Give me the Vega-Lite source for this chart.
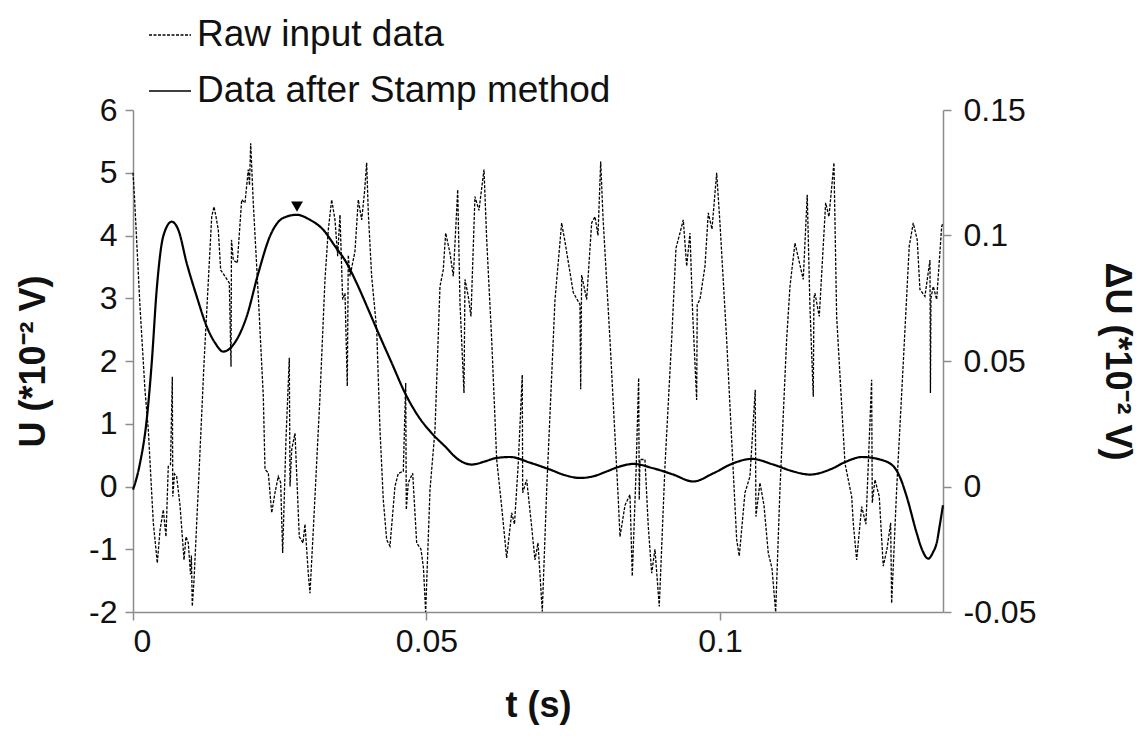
{
  "$schema": "https://vega.github.io/schema/vega-lite/v6.json",
  "width": 810,
  "height": 502,
  "autosize": {"type": "none"},
  "padding": {"left": 133, "top": 110, "right": 201, "bottom": 124},
  "background": "white",
  "config": {
    "view": {"stroke": null},
    "axis": {
      "grid": false,
      "domainColor": "#8c8c8c",
      "tickColor": "#8c8c8c",
      "domainWidth": 1.5,
      "tickWidth": 1.5,
      "tickSize": 8,
      "labelFont": "Liberation Sans",
      "titleFont": "Liberation Sans",
      "labelFontSize": 32,
      "titleFontSize": 36,
      "labelColor": "#111",
      "titleColor": "#111",
      "titleFontWeight": "bold"
    },
    "legend": {
      "orient": "none",
      "legendX": 15,
      "legendY": -97,
      "symbolType": "stroke",
      "symbolSize": 1764,
      "symbolStrokeWidth": 1.5,
      "symbolStrokeColor": "black",
      "labelFont": "Liberation Sans",
      "labelFontSize": 37,
      "labelLimit": 0,
      "labelColor": "#111",
      "labelOffset": 5,
      "rowPadding": 16,
      "padding": 0
    }
  },
  "datasets": {
    "raw": [
      {"t": 0.0, "U": 5.0}, {"t": 0.00026, "U": 4.6}, {"t": 0.00119, "U": 2.87}, {"t": 0.00204, "U": 1.54},
      {"t": 0.00261, "U": 0.9}, {"t": 0.00346, "U": -0.58}, {"t": 0.00375, "U": -0.85}, {"t": 0.00414, "U": -1.22},
      {"t": 0.0046, "U": -0.7}, {"t": 0.00516, "U": -0.37}, {"t": 0.00562, "U": -0.8}, {"t": 0.00601, "U": 0.32},
      {"t": 0.00639, "U": 0.35}, {"t": 0.0067, "U": 1.75}, {"t": 0.00678, "U": -0.16}, {"t": 0.00707, "U": 0.2},
      {"t": 0.00744, "U": 0.16}, {"t": 0.00801, "U": -0.3}, {"t": 0.00869, "U": -1.17}, {"t": 0.00903, "U": -0.8},
      {"t": 0.00942, "U": -0.9}, {"t": 0.0098, "U": -1.4}, {"t": 0.00995, "U": -1.1}, {"t": 0.0101, "U": -1.91},
      {"t": 0.01039, "U": -1.5}, {"t": 0.01112, "U": -0.05}, {"t": 0.0121, "U": 1.97}, {"t": 0.013, "U": 3.57},
      {"t": 0.01341, "U": 4.3}, {"t": 0.0138, "U": 4.46}, {"t": 0.01414, "U": 4.3}, {"t": 0.01453, "U": 4.09},
      {"t": 0.01494, "U": 3.45}, {"t": 0.01567, "U": 3.35}, {"t": 0.01641, "U": 3.24}, {"t": 0.0167, "U": 1.91},
      {"t": 0.01678, "U": 3.93}, {"t": 0.01709, "U": 3.61}, {"t": 0.01777, "U": 3.56}, {"t": 0.01852, "U": 4.57},
      {"t": 0.01908, "U": 4.52}, {"t": 0.01964, "U": 5.05}, {"t": 0.01985, "U": 4.8}, {"t": 0.02005, "U": 5.47},
      {"t": 0.02049, "U": 4.52}, {"t": 0.02135, "U": 3.03}, {"t": 0.0222, "U": 1.44}, {"t": 0.02249, "U": 0.27},
      {"t": 0.02305, "U": 0.22}, {"t": 0.02363, "U": -0.42}, {"t": 0.02419, "U": -0.1}, {"t": 0.02475, "U": 0.16},
      {"t": 0.02516, "U": 0.06}, {"t": 0.0255, "U": -1.06}, {"t": 0.02606, "U": 0.75}, {"t": 0.02663, "U": 2.05},
      {"t": 0.02675, "U": 0.0}, {"t": 0.02704, "U": 0.59}, {"t": 0.0276, "U": 0.85}, {"t": 0.02833, "U": -0.8},
      {"t": 0.02896, "U": -0.9}, {"t": 0.0293, "U": -0.6}, {"t": 0.02986, "U": -1.38}, {"t": 0.03015, "U": -1.7},
      {"t": 0.03072, "U": -0.69}, {"t": 0.03186, "U": 1.44}, {"t": 0.03271, "U": 3.3}, {"t": 0.03327, "U": 4.09},
      {"t": 0.03385, "U": 4.57}, {"t": 0.03441, "U": 4.25}, {"t": 0.03487, "U": 3.67}, {"t": 0.03526, "U": 4.33},
      {"t": 0.03572, "U": 2.98}, {"t": 0.03612, "U": 3.08}, {"t": 0.03651, "U": 1.6}, {"t": 0.03668, "U": 3.69},
      {"t": 0.03697, "U": 3.35}, {"t": 0.03782, "U": 3.75}, {"t": 0.03838, "U": 4.57}, {"t": 0.03896, "U": 4.25},
      {"t": 0.03945, "U": 4.7}, {"t": 0.03981, "U": 5.16}, {"t": 0.04009, "U": 4.36}, {"t": 0.04066, "U": 3.35},
      {"t": 0.04152, "U": 2.5}, {"t": 0.04208, "U": 0.9}, {"t": 0.04264, "U": -0.21}, {"t": 0.04322, "U": -0.85},
      {"t": 0.04378, "U": -0.95}, {"t": 0.04463, "U": 0.0}, {"t": 0.0452, "U": 0.21}, {"t": 0.04605, "U": 0.24},
      {"t": 0.04646, "U": 1.65}, {"t": 0.04656, "U": -0.37}, {"t": 0.0469, "U": 0.06}, {"t": 0.04765, "U": 0.21},
      {"t": 0.04833, "U": -0.9}, {"t": 0.04906, "U": -1.0}, {"t": 0.04949, "U": -1.3}, {"t": 0.04986, "U": -2.0},
      {"t": 0.0506, "U": -0.05}, {"t": 0.05145, "U": 0.9}, {"t": 0.0523, "U": 3.19}, {"t": 0.05286, "U": 3.45},
      {"t": 0.05327, "U": 4.04}, {"t": 0.054, "U": 3.72}, {"t": 0.05457, "U": 3.35}, {"t": 0.05532, "U": 4.73},
      {"t": 0.05571, "U": 2.92}, {"t": 0.05639, "U": 1.49}, {"t": 0.05656, "U": 3.3}, {"t": 0.05712, "U": 3.03},
      {"t": 0.05758, "U": 2.71}, {"t": 0.05826, "U": 4.62}, {"t": 0.05894, "U": 4.4}, {"t": 0.0598, "U": 5.05},
      {"t": 0.06026, "U": 3.93}, {"t": 0.06111, "U": 2.34}, {"t": 0.06196, "U": 0.43}, {"t": 0.06281, "U": -0.32},
      {"t": 0.06366, "U": -1.14}, {"t": 0.06452, "U": -0.42}, {"t": 0.06499, "U": -0.6}, {"t": 0.06564, "U": 0.37},
      {"t": 0.06632, "U": 1.78}, {"t": 0.06639, "U": -0.1}, {"t": 0.06707, "U": 0.11}, {"t": 0.06792, "U": -0.64},
      {"t": 0.06848, "U": -1.17}, {"t": 0.069, "U": -0.9}, {"t": 0.06973, "U": -1.99}, {"t": 0.07048, "U": -0.05},
      {"t": 0.0716, "U": 2.34}, {"t": 0.07189, "U": 2.97}, {"t": 0.07303, "U": 4.2}, {"t": 0.0736, "U": 3.9},
      {"t": 0.07501, "U": 3.09}, {"t": 0.07615, "U": 2.9}, {"t": 0.07627, "U": 1.55}, {"t": 0.07644, "U": 3.37},
      {"t": 0.07729, "U": 2.98}, {"t": 0.07814, "U": 4.2}, {"t": 0.07871, "U": 4.3}, {"t": 0.07922, "U": 4.0},
      {"t": 0.07968, "U": 5.18}, {"t": 0.08007, "U": 4.3}, {"t": 0.08126, "U": 2.34}, {"t": 0.08268, "U": -0.21},
      {"t": 0.08297, "U": -0.8}, {"t": 0.08382, "U": -0.3}, {"t": 0.08467, "U": -0.13}, {"t": 0.08506, "U": -1.43},
      {"t": 0.08569, "U": 0.2}, {"t": 0.08615, "U": 1.73}, {"t": 0.08625, "U": -0.21}, {"t": 0.08637, "U": 0.43},
      {"t": 0.08722, "U": 0.43}, {"t": 0.08779, "U": -0.64}, {"t": 0.08837, "U": -1.38}, {"t": 0.08893, "U": -1.0},
      {"t": 0.08966, "U": -1.91}, {"t": 0.09063, "U": 0.32}, {"t": 0.09177, "U": 2.34}, {"t": 0.09251, "U": 3.8},
      {"t": 0.09319, "U": 4.04}, {"t": 0.09375, "U": 4.25}, {"t": 0.09433, "U": 3.51}, {"t": 0.09489, "U": 4.04},
      {"t": 0.09535, "U": 2.76}, {"t": 0.09603, "U": 1.38}, {"t": 0.09613, "U": 2.9}, {"t": 0.09659, "U": 2.98},
      {"t": 0.09745, "U": 3.51}, {"t": 0.09801, "U": 4.36}, {"t": 0.09864, "U": 4.1}, {"t": 0.09944, "U": 5.0},
      {"t": 0.1, "U": 4.2}, {"t": 0.10114, "U": 2.34}, {"t": 0.10285, "U": -0.85}, {"t": 0.10329, "U": -1.11},
      {"t": 0.10426, "U": -0.1}, {"t": 0.10511, "U": 0.16}, {"t": 0.10601, "U": 1.54}, {"t": 0.10613, "U": -0.48},
      {"t": 0.10681, "U": 0.06}, {"t": 0.1075, "U": -0.3}, {"t": 0.10823, "U": -1.06}, {"t": 0.10886, "U": -1.3},
      {"t": 0.10949, "U": -2.0}, {"t": 0.11022, "U": -0.05}, {"t": 0.11136, "U": 2.34}, {"t": 0.11193, "U": 3.19},
      {"t": 0.11278, "U": 3.88}, {"t": 0.11346, "U": 3.6}, {"t": 0.11419, "U": 3.3}, {"t": 0.11487, "U": 4.65},
      {"t": 0.11533, "U": 2.87}, {"t": 0.1159, "U": 1.43}, {"t": 0.11601, "U": 3.0}, {"t": 0.11618, "U": 3.08},
      {"t": 0.11692, "U": 2.71}, {"t": 0.11801, "U": 4.52}, {"t": 0.11857, "U": 4.3}, {"t": 0.11942, "U": 5.16},
      {"t": 0.11988, "U": 2.71}, {"t": 0.1213, "U": 0.37}, {"t": 0.12244, "U": -0.16}, {"t": 0.12271, "U": -0.58},
      {"t": 0.12329, "U": -1.17}, {"t": 0.12414, "U": -0.32}, {"t": 0.12487, "U": -0.6}, {"t": 0.12584, "U": 1.7},
      {"t": 0.12595, "U": -0.26}, {"t": 0.12641, "U": 0.11}, {"t": 0.12714, "U": -0.16}, {"t": 0.12782, "U": -1.27},
      {"t": 0.12845, "U": -1.0}, {"t": 0.12908, "U": -0.58}, {"t": 0.12925, "U": -1.86}, {"t": 0.1301, "U": -0.05},
      {"t": 0.13123, "U": 1.97}, {"t": 0.13225, "U": 3.83}, {"t": 0.13293, "U": 4.2}, {"t": 0.13361, "U": 3.93},
      {"t": 0.13407, "U": 3.14}, {"t": 0.13492, "U": 3.03}, {"t": 0.13578, "U": 3.61}, {"t": 0.13586, "U": 1.49},
      {"t": 0.13595, "U": 3.0}, {"t": 0.13634, "U": 3.19}, {"t": 0.13692, "U": 2.98}, {"t": 0.13777, "U": 4.14},
      {"t": 0.13799, "U": 4.2}
    ],
    "stamp": [
      {"t": 0.0, "dU": -0.00125}, {"t": 0.00051, "dU": 0.0025}, {"t": 0.00119, "dU": 0.00925}, {"t": 0.00233, "dU": 0.0265},
      {"t": 0.00319, "dU": 0.04925}, {"t": 0.00404, "dU": 0.0785}, {"t": 0.00516, "dU": 0.09975}, {"t": 0.00659, "dU": 0.1055},
      {"t": 0.00772, "dU": 0.10225}, {"t": 0.00915, "dU": 0.089}, {"t": 0.01085, "dU": 0.07575}, {"t": 0.01256, "dU": 0.06375},
      {"t": 0.01397, "dU": 0.05725}, {"t": 0.01538, "dU": 0.05375}, {"t": 0.01709, "dU": 0.0565}, {"t": 0.01937, "dU": 0.06775},
      {"t": 0.02135, "dU": 0.085}, {"t": 0.02334, "dU": 0.09975}, {"t": 0.0256, "dU": 0.107}, {"t": 0.02789, "dU": 0.10825},
      {"t": 0.03015, "dU": 0.10625}, {"t": 0.03242, "dU": 0.10225}, {"t": 0.03441, "dU": 0.09575}, {"t": 0.03641, "dU": 0.089},
      {"t": 0.03811, "dU": 0.081}, {"t": 0.04009, "dU": 0.0705}, {"t": 0.04179, "dU": 0.06125}, {"t": 0.04407, "dU": 0.04925},
      {"t": 0.04634, "dU": 0.03725}, {"t": 0.0486, "dU": 0.028}, {"t": 0.05089, "dU": 0.02125}, {"t": 0.05315, "dU": 0.016},
      {"t": 0.05542, "dU": 0.01075}, {"t": 0.0577, "dU": 0.00875}, {"t": 0.05997, "dU": 0.01}, {"t": 0.06167, "dU": 0.01125},
      {"t": 0.06422, "dU": 0.01175}, {"t": 0.06763, "dU": 0.0095}, {"t": 0.07104, "dU": 0.00675}, {"t": 0.0736, "dU": 0.0045},
      {"t": 0.07615, "dU": 0.0034}, {"t": 0.07871, "dU": 0.00425}, {"t": 0.0807, "dU": 0.006}, {"t": 0.08297, "dU": 0.008},
      {"t": 0.08523, "dU": 0.009}, {"t": 0.08864, "dU": 0.00725}, {"t": 0.09205, "dU": 0.00475}, {"t": 0.09545, "dU": 0.002},
      {"t": 0.09886, "dU": 0.00525}, {"t": 0.10227, "dU": 0.00925}, {"t": 0.1054, "dU": 0.011}, {"t": 0.10908, "dU": 0.00875},
      {"t": 0.11249, "dU": 0.006}, {"t": 0.11533, "dU": 0.00475}, {"t": 0.11874, "dU": 0.00675}, {"t": 0.12158, "dU": 0.01},
      {"t": 0.12414, "dU": 0.01175}, {"t": 0.12726, "dU": 0.01075}, {"t": 0.12947, "dU": 0.00825}, {"t": 0.13066, "dU": 0.00375},
      {"t": 0.13181, "dU": -0.004}, {"t": 0.13351, "dU": -0.0185}, {"t": 0.13441, "dU": -0.025}, {"t": 0.13549, "dU": -0.02875},
      {"t": 0.13629, "dU": -0.02625}, {"t": 0.13692, "dU": -0.0225}, {"t": 0.13748, "dU": -0.015}, {"t": 0.13799, "dU": -0.0075}
    ],
    "marker": [
      {"t": 0.02794, "U": 4.46}
    ]
  },
  "encoding": {
    "x": {
      "field": "t",
      "type": "quantitative",
      "scale": {"domain": [0, 0.138], "nice": false, "zero": false},
      "axis": {
        "title": "t (s)",
        "values": [0, 0.05, 0.1],
        "labelExpr": "'' + datum.value",
        "labelPadding": 6,
        "titlePadding": 31
      }
    }
  },
  "layer": [
    {
      "layer": [
        {
          "data": {"name": "raw"},
          "mark": {"type": "line", "color": "black", "strokeWidth": 1.3},
          "encoding": {
            "y": {
              "field": "U",
              "type": "quantitative",
              "scale": {"domain": [-2, 6], "nice": false, "zero": false},
              "axis": {
                "title": "U  (*10⁻² V)",
                "values": [-2, -1, 0, 1, 2, 3, 4, 5, 6],
                "labelExpr": "'' + datum.value",
                "labelPadding": 8,
                "titlePadding": 36
              }
            },
            "strokeDash": {
              "datum": "Raw input data",
              "type": "nominal",
              "scale": {"domain": ["Raw input data", "Data after Stamp method"], "range": [[3, 1.5], [1, 0]]},
              "legend": {"title": null}
            }
          }
        },
        {
          "data": {"name": "marker"},
          "mark": {"type": "point", "shape": "triangle-down", "filled": true, "color": "black", "size": 140, "opacity": 1},
          "encoding": {
            "y": {"field": "U", "type": "quantitative"}
          }
        }
      ]
    },
    {
      "data": {"name": "stamp"},
      "mark": {"type": "line", "color": "black", "strokeWidth": 2.2, "interpolate": "monotone"},
      "encoding": {
        "y": {
          "field": "dU",
          "type": "quantitative",
          "scale": {"domain": [-0.05, 0.15], "nice": false, "zero": false},
          "axis": {
            "orient": "right",
            "title": "ΔU  (*10⁻² V)",
            "values": [-0.05, 0, 0.05, 0.1, 0.15],
            "labelExpr": "'' + datum.value",
            "labelPadding": 12,
            "titlePadding": 62
          }
        },
        "strokeDash": {
          "datum": "Data after Stamp method",
          "type": "nominal",
          "legend": {"title": null}
        }
      }
    }
  ],
  "resolve": {"scale": {"y": "independent"}}
}
